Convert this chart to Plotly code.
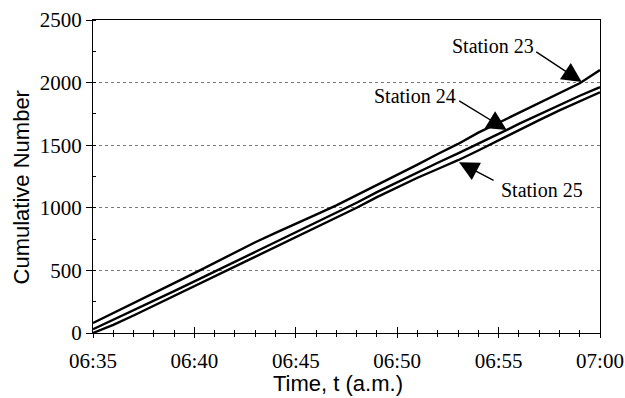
import plotly.graph_objects as go
import pandas as pd
import numpy as np

# Observation times, one per minute from 06:35 to 07:00
times = pd.date_range("2000-01-01 06:35", "2000-01-01 07:00", freq="1min")

# Cumulative vehicle counts at each station
station_23 = [80, 158, 238, 318, 398, 478, 560, 640, 725, 800, 870, 945, 1020,
              1100, 1185, 1265, 1345, 1430, 1510, 1600, 1680, 1760, 1840, 1915,
              1995, 2100]
station_24 = [30, 105, 182, 258, 335, 412, 490, 568, 648, 728, 805, 880, 958,
              1040, 1125, 1205, 1282, 1360, 1435, 1510, 1590, 1670, 1745, 1820,
              1895, 1963]
station_25 = [0, 65, 140, 218, 295, 372, 450, 528, 608, 690, 768, 842, 920,
              1000, 1085, 1165, 1240, 1310, 1380, 1458, 1540, 1620, 1700, 1778,
              1852, 1923]

series = {"Station 23": station_23, "Station 24": station_24, "Station 25": station_25}

x_ticks = ["06:35", "06:40", "06:45", "06:50", "06:55", "07:00"]
y_ticks = [0, 500, 1000, 1500, 2000, 2500]

x_title = "Time, t (a.m.)"
y_title = "Cumulative Number"

serif = "Liberation Serif, Times New Roman, serif"
sans = "Liberation Sans, Arial, sans-serif"

fig = go.Figure()
for name, vals in series.items():
    fig.add_trace(go.Scatter(x=times, y=vals, mode="lines", name=name,
                             line=dict(color="black", width=2.4),
                             showlegend=False))

# Invisible trace so the overlay axis (inner tick marks) is drawn
fig.add_trace(go.Scatter(x=[times[0]], y=[0], xaxis="x2", mode="none",
                         showlegend=False, hoverinfo="skip"))

t0, t1 = times[0], times[-1]
tickvals = [pd.Timestamp("2000-01-01 " + t) for t in x_ticks]

xcommon = dict(type="date", range=[t0, t1], tickvals=tickvals, automargin=False,
               linecolor="black", linewidth=1.2, tickcolor="black", tickwidth=1.2,
               showgrid=False, zeroline=False)

fig.update_layout(
    width=625, height=398,
    margin=dict(l=93, r=25, t=20, b=65, autoexpand=False),
    paper_bgcolor="white", plot_bgcolor="white",
    font=dict(family=serif, size=21, color="black"),
    xaxis=dict(**xcommon, ticktext=x_ticks, ticks="outside", ticklen=4,
               ticklabelstandoff=5,
               showline=True, mirror=True,
               minor=dict(dtick=60000, ticks="outside", ticklen=3,
                          tickcolor="black", tickwidth=1),
               tickfont=dict(family=serif, size=21, color="black")),
    xaxis2=dict(**xcommon, overlaying="x", anchor="y", side="bottom",
                showticklabels=False, ticks="inside", ticklen=6, showline=False,
                minor=dict(dtick=60000, ticks="inside", ticklen=3,
                           tickcolor="black", tickwidth=1)),
    yaxis=dict(range=[0, 2500], tickvals=y_ticks, ticks="outside", ticklen=6,
               automargin=False,
               tickcolor="black", tickwidth=1.2,
               showline=True, mirror=True, linecolor="black", linewidth=1.2,
               minor=dict(dtick=250, ticks="inside", ticklen=3,
                          tickcolor="black", tickwidth=1),
               showgrid=True, gridcolor="#777777", gridwidth=1, griddash="dot",
               zeroline=False,
               tickfont=dict(family=serif, size=21, color="black")),
)

# Axis titles
fig.add_annotation(xref="paper", yref="paper", x=0.483, y=-0.203,
                   xanchor="center", yanchor="bottom", text=x_title, showarrow=False,
                   borderpad=0,
                   font=dict(family=sans, size=22, color="black"))
fig.add_annotation(xref="paper", yref="paper", x=-0.142, y=0.465,
                   xanchor="center", yanchor="middle", text=y_title, showarrow=False,
                   textangle=-90, font=dict(family=sans, size=22, color="black"))


def value_at(vals, minute):
    return float(np.interp(minute, np.arange(len(vals)), vals))


def at_minute(minute):
    return t0 + pd.Timedelta(minutes=minute)


# Arrow annotations pointing at each curve; the tip sits on (or just below) the curve
arrows = [
    ("Station 23", 24.1, 0, -47, -31),
    ("Station 24", 20.4, 0, -49, -30),
    ("Station 25", 18.05, -20, 36, 19),
]
for name, minute, offset, ax, ay in arrows:
    fig.add_annotation(x=at_minute(minute), y=value_at(series[name], minute) + offset,
                       text="", showarrow=True, ax=ax, ay=ay,
                       arrowhead=2, arrowsize=2.8, arrowwidth=1.4, arrowcolor="black")

labels = [
    ("Station 23", 19.74, 2293),
    ("Station 24", 15.88, 1893),
    ("Station 25", 22.12, 1143),
]
for name, minute, yv in labels:
    fig.add_annotation(x=at_minute(minute), y=yv, text=name, showarrow=False,
                       font=dict(family=serif, size=20, color="black"))

fig.write_html("out.html")
